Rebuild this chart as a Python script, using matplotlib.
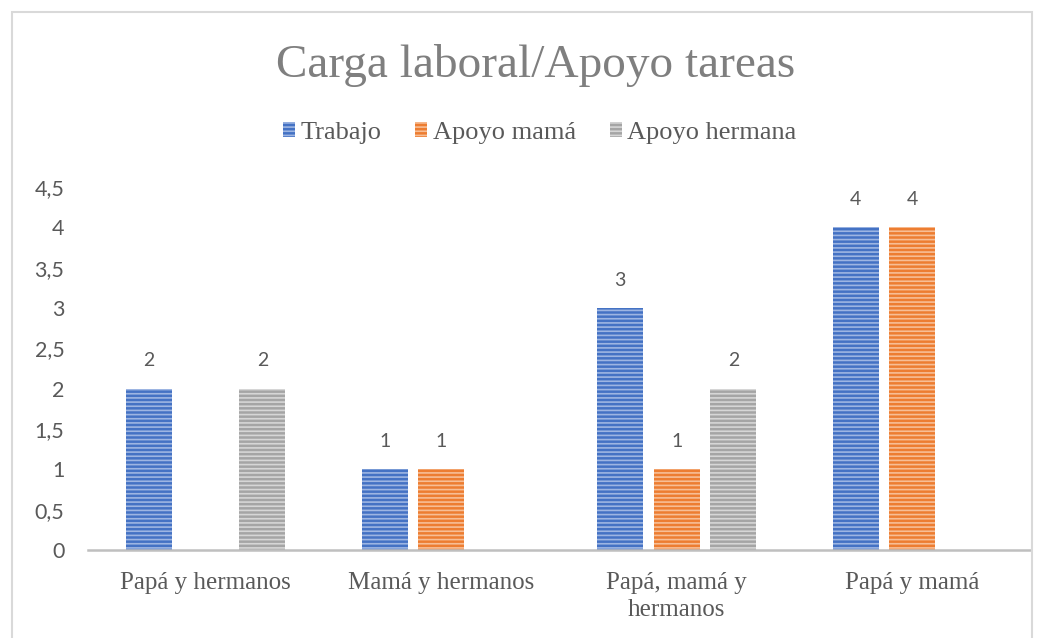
import numpy as np
import matplotlib.pyplot as plt
from matplotlib.patches import Rectangle, Patch

categories = ['Papá y hermanos', 'Mamá y hermanos', 'Papá, mamá y\nhermanos', 'Papá y mamá']
series = ['Trabajo', 'Apoyo mamá', 'Apoyo hermana']
trabajo = [2, 1, 3, 4]
apoyo_mama = [np.nan, 1, 1, 4]
apoyo_hermana = [2, np.nan, 2, np.nan]
yticks = [0, 0.5, 1, 1.5, 2, 2.5, 3, 3.5, 4, 4.5]

colors = ['#4472C4', '#ED7D31', '#A5A5A5']
stripe = ['#9DB5E2', '#F7BE95', '#D6D6D6']

plt.rcParams['hatch.linewidth'] = 1.2

fig = plt.figure(figsize=(10.44, 6.38), dpi=100)
ax = fig.add_axes([0.0843, 0.1379, 0.9023, 0.569])

x = np.arange(len(categories))
width = 0.195
offsets = [-0.24, 0, 0.24]
for vals, off, c, s, name in zip([trabajo, apoyo_mama, apoyo_hermana], offsets, colors, stripe, series):
    vals = np.array(vals, dtype=float)
    ax.bar(x + off, np.nan_to_num(vals), width, color=c, edgecolor=s,
           linewidth=0, hatch='----', label=name)
    for xi, v in zip(x + off, vals):
        if not np.isnan(v):
            ax.annotate(f'{v:g}', (xi, v), xytext=(0, 14), textcoords='offset points',
                        ha='center', va='bottom', fontsize=14, color='#595959', family='Lato')

ax.set_xlim(-0.5, 3.5)
ax.set_ylim(0, 4.5)
ax.set_yticks(yticks)
ax.set_yticklabels([f'{t:g}'.replace('.', ',') for t in yticks], family='Lato', fontsize=15.5, color='#595959')
ax.set_xticks(x)
ax.set_xticklabels(categories, family='Liberation Serif', fontsize=18, color='#595959', linespacing=1.3)
ax.tick_params(axis='both', length=0)
ax.tick_params(axis='y', pad=17)
ax.tick_params(axis='x', pad=16)
for sp in ['top', 'right', 'left']:
    ax.spines[sp].set_visible(False)
ax.spines['bottom'].set_color('#BFBFBF')
ax.spines['bottom'].set_linewidth(1.8)

fig.text(0.513, 0.898, 'Carga laboral/Apoyo tareas', ha='center', va='center',
         family='Liberation Serif', fontsize=34, color='#7F7F7F')

handles = [Patch(facecolor=c, edgecolor=s, linewidth=0, hatch='----') for c, s in zip(colors, stripe)]
fig.legend(handles, series, loc='center', bbox_to_anchor=(0.517, 0.791), ncol=3, frameon=False,
           prop={'family': 'Liberation Serif', 'size': 19}, labelcolor='#595959',
           handlelength=0.45, handleheight=0.5, handletextpad=0.2, columnspacing=1.3)

fig.patches.append(Rectangle((0.0115, -0.05), 0.977, 1.031, transform=fig.transFigure,
                             fill=False, edgecolor='#D9D9D9', linewidth=1.5))

fig.savefig('out.png', dpi=100)
